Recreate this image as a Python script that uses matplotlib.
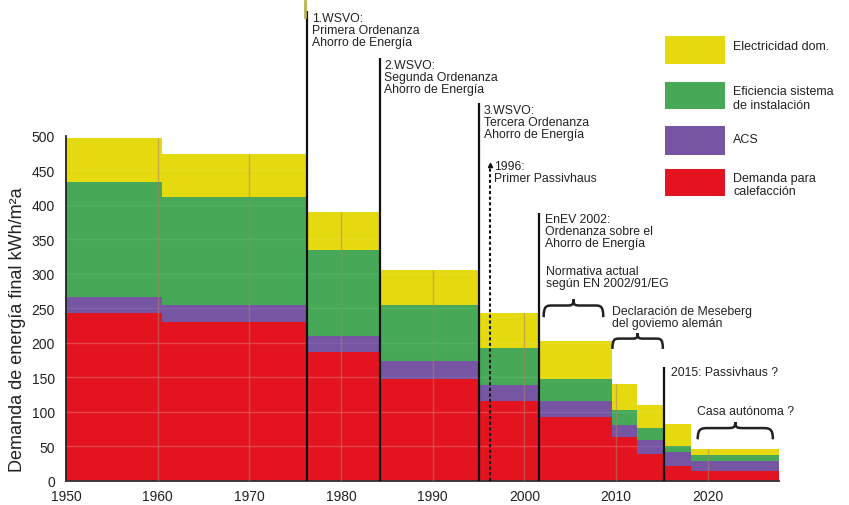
import matplotlib
matplotlib.use("Agg")
import matplotlib.pyplot as plt
from matplotlib.patches import Rectangle, PathPatch
from matplotlib.path import Path
from matplotlib.lines import Line2D
import numpy as np

plt.rcParams['font.family'] = ['Liberation Sans', 'DejaVu Sans']

# ---- data ----
edges = [1950, 1960.5, 1976.3, 1984.2, 1995.1, 2001.6, 2009.5, 2012.3, 2015.2, 2018.2, 2027.8]
heating = [243, 230, 186, 148, 115, 93, 64, 39, 22, 14]
acs = [23, 24, 24, 26, 23, 23, 17, 20, 20, 15]
efficiency = [167, 157, 125, 81, 54, 32, 22, 17, 8, 8]
electricity = [63, 62, 55, 50, 51, 55, 37, 33, 32, 9]

series_names = ["Demanda para\ncalefacción", "ACS", "Eficiencia sistema\nde instalación", "Electricidad dom."]
colors = ["#e3131f", "#7656a2", "#47a957", "#e5da10"]

yticks = [0, 50, 100, 150, 200, 250, 300, 350, 400, 450, 500]
xticks = [1950, 1960, 1970, 1980, 1990, 2000, 2010, 2020]

# regulation markers: (year, top value, label, text x, text top)
milestones = [
    (1976.3, 681, "1.WSVO:\nPrimera Ordenanza\nAhorro de Energía", 1976.8, 680),
    (1984.2, 612, "2.WSVO:\nSegunda Ordenanza\nAhorro de Energía", 1984.7, 611),
    (1995.1, 547, "3.WSVO:\nTercera Ordenanza\nAhorro de Energía", 1995.6, 546),
    (2001.6, 388, "EnEV 2002:\nOrdenanza sobre el\nAhorro de Energía", 2002.2, 388),
    (2015.2, 165, "2015: Passivhaus ?", 2016.0, 166),
]
passiv_year, passiv_top = 1996.2, 457
passiv_label = "1996:\nPrimer Passivhaus"

braces = [
    # x0, x1, y ends, y tip, label, text x, text top
    (2002.1, 2008.6, 237, 263, "Normativa actual\nsegún EN 2002/91/EG", 2002.4, 313),
    (2009.6, 2015.1, 191, 214, "Declaración de Meseberg\ndel goviemo alemán", 2009.6, 255),
    (2018.9, 2027.1, 60, 85, "Casa autónoma ?", 2018.8, 110),
]

# ---- figure ----
W, H = 849, 506
fig = plt.figure(figsize=(W / 100, H / 100), dpi=100)
ax = fig.add_axes([66 / W, 24.3 / H, (779.3 - 66) / W, 345 / H])

left = np.array(edges[:-1])
widths = np.diff(edges)
layers = [heating, acs, efficiency, electricity]
bottom = np.zeros(len(left))
for vals, c in zip(layers, colors):
    ax.bar(left, vals, width=widths, bottom=bottom, align='edge', color=c, linewidth=0)
    bottom = bottom + np.array(vals)
totals = bottom

# faint grid inside bars
for l, w, t, hv in zip(left, widths, totals, heating):
    for yv in yticks[1:]:
        if yv < hv:
            ax.hlines(yv, l, l + w, color='white', alpha=0.2, lw=1.0, zorder=3)
        elif yv < t:
            ax.hlines(yv, l, l + w, color='white', alpha=0.07, lw=1.0, zorder=3)
for d in xticks[1:]:
    for l, w, t in zip(left, widths, totals):
        if l < d < l + w:
            ax.vlines(d, 0, t, color='#b07f6a', alpha=0.55, lw=1.0, zorder=3)

ax.set_xlim(edges[0], edges[-1])
ax.set_ylim(0, 500)
ax.set_xticks(xticks)
ax.set_yticks(yticks)
ax.tick_params(length=0, labelsize=10, colors='#222222')
ax.tick_params(axis='x', pad=6)
ax.tick_params(axis='y', pad=8)
for s in ['top', 'right']:
    ax.spines[s].set_visible(False)
ax.spines['left'].set_color('#222222')
ax.spines['bottom'].set_color('#333333')
ax.spines['left'].set_linewidth(1.3)
ax.spines['bottom'].set_linewidth(1.3)

fig.text(18 / W, 1 - 330 / H, "Demanda de energía final kWh/m²a", rotation=90,
         ha='center', va='center', fontsize=13, color='#222222')

txt_kw = dict(fontsize=8.8, color='#222222', va='top', ha='left', linespacing=1.0)

for yr, top, lab, tx, ty in milestones:
    ax.vlines(yr, 0, top, color='#111111', lw=1.6, zorder=5, clip_on=False)
    ax.text(tx, ty, lab, clip_on=False, **txt_kw)

ax.vlines(passiv_year, 0, passiv_top, color='#111111', lw=1.5, linestyles=(0, (1.5, 1.2)),
          zorder=5, clip_on=False)
ax.plot([passiv_year], [passiv_top], marker='^', ms=3, color='#111111', clip_on=False, zorder=5)
ax.text(passiv_year + 0.5, passiv_top + 8, passiv_label, clip_on=False, **txt_kw)


def brace(x0, x1, yb, yt):
    xc = (x0 + x1) / 2
    w = x1 - x0
    ym = yb + (yt - yb) * 0.65
    verts = [
        (x0, yb),
        (x0, ym), (x0 + w * 0.05, ym), (x0 + w * 0.15, ym),
        (xc - w * 0.12, ym),
        (xc - w * 0.03, ym), (xc, ym), (xc, yt),
        (xc, ym), (xc + w * 0.03, ym), (xc + w * 0.12, ym),
        (x1 - w * 0.15, ym),
        (x1 - w * 0.05, ym), (x1, ym), (x1, yb),
    ]
    codes = [Path.MOVETO, Path.CURVE4, Path.CURVE4, Path.CURVE4, Path.LINETO,
             Path.CURVE4, Path.CURVE4, Path.CURVE4, Path.CURVE4, Path.CURVE4, Path.CURVE4,
             Path.LINETO, Path.CURVE4, Path.CURVE4, Path.CURVE4]
    return PathPatch(Path(verts, codes), fill=False, lw=1.8, color='#222222', clip_on=False)


for x0, x1, yb, yt, lab, tx, ty in braces:
    ax.add_patch(brace(x0, x1, yb, yt))
    ax.text(tx, ty, lab, clip_on=False, **txt_kw)

# small mark at the top
fig.add_artist(Line2D([305 / W, 305 / W], [1 - 2 / H, 1 - 18 / H], color='#b8b34a', lw=2))

# legend
leg_boxes = [(37, 65), (83, 110), (127, 156), (170, 197)]
leg_text_y = [47, 99, 140, 185.5]
leg_order = [3, 2, 1, 0]
for (y0, y1), ty, idx in zip(leg_boxes, leg_text_y, leg_order):
    fig.patches.append(Rectangle((665 / W, 1 - y1 / H), 60 / W, (y1 - y0) / H,
                                 transform=fig.transFigure, color=colors[idx], lw=0))
    fig.text(733 / W, 1 - ty / H, series_names[idx], ha='left', va='center',
             fontsize=9, color='#222222', linespacing=1.22)

fig.savefig("out.png", dpi=100)
